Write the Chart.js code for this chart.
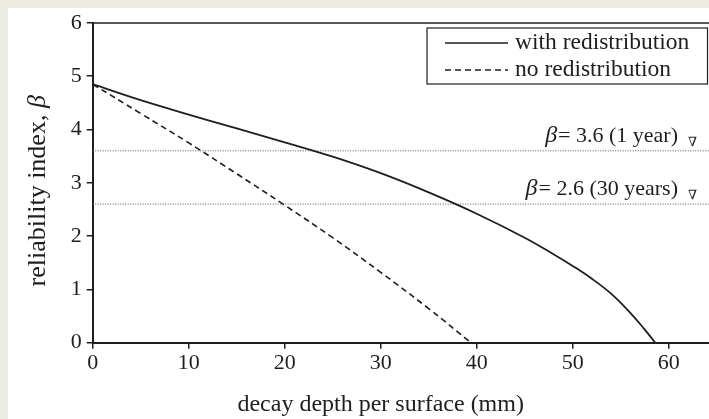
<!DOCTYPE html>
<html>
<head>
<meta charset="utf-8">
<script src="https://cdn.jsdelivr.net/npm/chart.js@4/dist/chart.umd.min.js"></script>
<style>
  html, body { margin: 0; padding: 0; background: #ecebe1; overflow: hidden; }
  #panel { position: absolute; left: 8px; top: 8px; width: 701px; height: 411px; background: #fff; }
  canvas { display: block; }
</style>
</head>
<body>
<div id="panel"><canvas id="chart" width="701" height="411"></canvas></div>
<script>
// values
const depthWith = [0, 5, 10, 15, 20, 25, 30, 35, 40, 45, 48, 50, 52, 54, 56, 57.4, 58.6];
const betaWith = [4.85, 4.55, 4.28, 4.02, 3.76, 3.49, 3.18, 2.82, 2.42, 1.97, 1.66, 1.44, 1.20, 0.92, 0.56, 0.27, 0];
const depthNo = [0, 5, 10, 15, 20, 25, 30, 35, 39.4];
const betaNo = [4.85, 4.30, 3.75, 3.17, 2.58, 1.97, 1.32, 0.64, 0];
const targetBeta = [3.6, 2.6];
const targetLabels = ['= 3.6 (1 year)', '= 2.6 (30 years)'];
const seriesNames = ['with redistribution', 'no redistribution'];
const xTicks = [0, 10, 20, 30, 40, 50, 60];
const X_MAX = 64.2;

const SERIF = '"Liberation Serif", "DejaVu Serif", serif';
const INK = '#1e1e1e';

const toPoints = (xs, ys) => xs.map((x, i) => ({ x, y: ys[i] }));

const overlay = {
  id: 'overlay',
  afterDraw(chart) {
    const { ctx, chartArea: ca, scales: { x, y } } = chart;
    ctx.save();

    // top frame line
    ctx.strokeStyle = INK;
    ctx.lineWidth = 1.5;
    ctx.beginPath();
    ctx.moveTo(ca.left, ca.top);
    ctx.lineTo(ca.right, ca.top);
    ctx.stroke();

    // legend box
    const bl = 419, bt = 20, br = 699.5, bb = 76;
    ctx.lineWidth = 1.2;
    ctx.strokeRect(bl, bt, br - bl, bb - bt);
    ctx.lineWidth = 1.6;
    ctx.beginPath(); ctx.moveTo(437, 35); ctx.lineTo(500, 35); ctx.stroke();
    ctx.setLineDash([6, 4]);
    ctx.beginPath(); ctx.moveTo(437, 62); ctx.lineTo(500, 62); ctx.stroke();
    ctx.setLineDash([]);
    ctx.fillStyle = INK;
    ctx.font = '23.5px ' + SERIF;
    ctx.textBaseline = 'middle';
    ctx.textAlign = 'left';
    ctx.fillText(seriesNames[0], 507, 35);
    ctx.fillText(seriesNames[1], 507, 62);

    // target level labels
    targetBeta.forEach((b, i) => {
      const py = y.getPixelForValue(b);
      ctx.textBaseline = 'alphabetic';
      ctx.font = '22px ' + SERIF;
      const rest = targetLabels[i];
      const wRest = ctx.measureText(rest).width;
      ctx.font = 'italic 24px ' + SERIF;
      const wB = ctx.measureText('β').width;
      const right = 670;
      ctx.fillText('β', right - wRest - wB - 1, py - 9);
      ctx.font = '22px ' + SERIF;
      ctx.fillText(rest, right - wRest, py - 9);
      ctx.font = '13px ' + SERIF;
      ctx.fillText('∇', 680, py - 5);
    });

    // axis titles
    ctx.font = '24px ' + SERIF;
    ctx.textAlign = 'center';
    ctx.textBaseline = 'middle';
    ctx.fillText('decay depth per surface (mm)', x.getPixelForValue(30), 397);

    ctx.font = '26px ' + SERIF;
    ctx.translate(30, (ca.top + ca.bottom) / 2 + 8);
    ctx.rotate(-Math.PI / 2);
    const t1 = 'reliability index, ';
    const w1 = ctx.measureText(t1).width;
    ctx.font = 'italic 26px ' + SERIF;
    const w2 = ctx.measureText('β').width;
    ctx.textAlign = 'left';
    ctx.font = '26px ' + SERIF;
    ctx.fillText(t1, -(w1 + w2) / 2, 0);
    ctx.font = 'italic 26px ' + SERIF;
    ctx.fillText('β', -(w1 + w2) / 2 + w1, 0);

    ctx.restore();
  }
};

new Chart(document.getElementById('chart'), {
  type: 'line',
  data: {
    datasets: [
      {
        label: seriesNames[0],
        data: toPoints(depthWith, betaWith),
        borderColor: INK,
        borderWidth: 1.8,
        pointRadius: 0,
        tension: 0.4,
      },
      {
        label: seriesNames[1],
        data: toPoints(depthNo, betaNo),
        borderColor: INK,
        borderWidth: 1.6,
        borderDash: [6, 4],
        pointRadius: 0,
        tension: 0.4,
      },
      ...targetBeta.map(b => ({
        label: 'beta ' + b,
        data: [{ x: 0, y: b }, { x: X_MAX, y: b }],
        borderColor: '#555',
        borderWidth: 1,
        borderDash: [1, 1.5],
        pointRadius: 0,
      })),
    ],
  },
  options: {
    responsive: false,
    animation: false,
    devicePixelRatio: 1,
    layout: { padding: { top: 14.3, right: 0, left: 0, bottom: 0 } },
    plugins: { legend: { display: false }, tooltip: { enabled: false } },
    scales: {
      x: {
        type: 'linear',
        min: 0,
        max: X_MAX,
        afterBuildTicks: axis => { axis.ticks = xTicks.map(v => ({ value: v })); },
        afterFit: axis => { axis.height = 76.3; },
        ticks: { stepSize: 10, padding: 1, color: INK, font: { family: SERIF, size: 22 } },
        grid: { drawOnChartArea: false, drawTicks: true, tickLength: 6, tickColor: INK, lineWidth: 1.5 },
        border: { display: true, color: INK, width: 2 },
      },
      y: {
        min: 0,
        max: 6,
        afterFit: axis => { axis.width = 84.7; },
        ticks: { stepSize: 1, padding: 5, color: INK, font: { family: SERIF, size: 22, lineHeight: 0.9 } },
        grid: { drawOnChartArea: false, drawTicks: true, tickLength: 6, tickColor: INK, lineWidth: 1.5 },
        border: { display: true, color: INK, width: 2 },
      },
    },
  },
  plugins: [overlay],
});
</script>
</body>
</html>
